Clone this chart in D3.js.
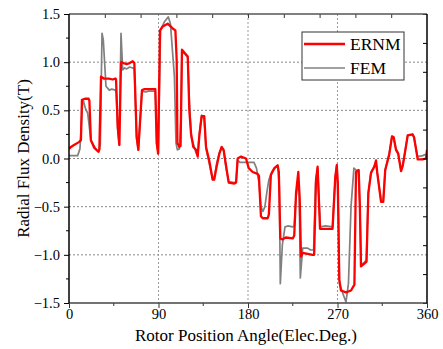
<!DOCTYPE html>
<html>
<head>
<meta charset="utf-8">
<script src="https://cdn.jsdelivr.net/npm/d3@7"></script>
<style>
  body { margin: 0; background: #fff; }
  text { font-family: "Liberation Serif", "DejaVu Serif", serif; fill: #000; }
</style>
</head>
<body>
<div id="chart"></div>
<script>
// ERNM curve (red)
var ernmAngle = [0, 2, 5, 10, 12, 13, 16, 19.8, 20.5, 22, 25.5, 29.5, 30.5, 32.2, 35, 40, 44, 46.6, 47.3, 49, 50.6,
  52.3, 55, 58, 61, 64, 65.7, 68, 69.7, 73.4, 76, 80, 86.8, 88.2, 89.6, 91.5, 94.2, 99.2, 104.3, 107, 108.3, 109,
  111, 112.2, 113.6, 116, 119.4, 121, 122.7, 125, 127.7, 129.4, 131, 133.4, 136, 137.8, 141, 144.5, 146, 148.5,
  151.2, 153.5, 155.5, 158, 160.6, 166.3, 168, 169.6, 173, 178, 180.7, 184.7, 189.7, 191, 193, 194.8, 199.8, 201,
  203, 206.5, 209.8, 211, 212.5, 214.5, 218, 225, 226.5, 228.3, 230.6, 232, 233.3, 235, 240, 245, 246.5, 248.4,
  250, 251, 252.4, 258, 265, 267.8, 269.3, 270.3, 271.8, 273.5, 278.5, 283.6, 287, 288.6, 291.3, 292.5, 293.6,
  297, 299.2, 301, 303.7, 307, 308.7, 310, 313.8, 316, 318, 322, 324.8, 326.5, 328.8, 331, 333.9, 335.5, 337.2,
  340.6, 345.6, 347, 350.7, 355.7, 359, 360];
var ernmValue = [0.10, 0.12, 0.14, 0.17, 0.19, 0.61, 0.62, 0.62, 0.60, 0.19, 0.11, 0.07, 0.09, 0.85, 0.83, 0.83, 0.82,
  0.83, 0.82, 0.33, 0.14, 1.00, 0.99, 0.98, 0.99, 1.01, 0.99, 0.23, 0.09, 0.71, 0.72, 0.72, 0.72, 0.16, 0.05,
  1.33, 1.37, 1.40, 1.35, 1.33, 1.02, 0.16, 0.12, 0.13, 1.13, 1.10, 1.06, 0.50, 0.26, 0.12, 0.09, 0.02, 0.23,
  0.44, 0.44, 0.12, -0.02, -0.22, -0.22, -0.08, 0.05, 0.12, 0.09, -0.08, -0.25, -0.26, -0.25, 0.00, 0.02, 0.00,
  -0.10, -0.14, -0.16, -0.18, -0.60, -0.62, -0.62, -0.58, -0.17, -0.10, -0.07, -0.14, -0.83, -0.84, -0.82, -0.83,
  -0.80, -0.36, -0.14, -0.42, -1.02, -0.98, -0.99, -1.00, -1.00, -0.22, -0.085, -0.35, -0.73, -0.73, -0.73,
  -0.19, -0.07, -0.25, -1.26, -1.37, -1.39, -1.37, -1.31, -0.14, -0.12, -0.50, -1.12, -1.09, -1.07, -0.36,
  -0.15, -0.085, -0.02, -0.15, -0.45, -0.45, -0.12, 0.04, 0.23, 0.22, 0.09, 0.05, -0.13, -0.08, 0.02, 0.24,
  0.25, 0.22, -0.01, -0.01, 0.00, 0.09];

// FEM curve (grey)
var femAngle = [0, 8.7, 11, 13.8, 14.5, 16.5, 18.8, 22, 27, 30, 31.5, 33.2, 34.5, 37.2, 40.5, 43, 46.6, 47.5, 49, 50.6,
  52.3, 54, 56, 58, 61, 64, 65.7, 68, 69.7, 73.4, 77, 80, 86.8, 88.2, 89.8, 92, 96, 99.9, 102, 106, 107.6, 109,
  111, 112.5, 113.6, 116, 119.4, 121, 123, 127.7, 129.4, 131, 133.4, 136, 137.8, 141, 144.5, 146, 148.5, 151.2,
  153.5, 155.5, 158, 160.6, 166.3, 168, 169.6, 172, 178, 186, 188.5, 191, 193, 195, 197, 199, 201, 204, 207, 210,
  211.5, 212.5, 214.5, 217.2, 220, 225, 226.5, 228.3, 230, 231.5, 232.6, 235, 240, 243, 246, 248, 250, 251.5,
  252.8, 258, 265, 267.8, 269.4, 271, 272, 276, 278.5, 281, 283.6, 286.5, 288.6, 291, 292.5, 293.8, 297, 299,
  301, 303.7, 307, 308.7, 310, 313.8, 316, 318, 322, 324.8, 326.5, 328.8, 331, 333.9, 335.5, 337.2, 340.6, 345.6,
  347, 350.5, 355.7, 358, 360];
var femValue = [0.03, 0.03, 0.10, 0.61, 0.60, 0.52, 0.47, 0.19, 0.10, 0.07, 0.15, 1.30, 1.23, 0.75, 0.71, 0.72, 0.71,
  0.68, 0.30, 0.14, 1.30, 0.92, 0.94, 0.93, 0.95, 0.94, 0.93, 0.20, 0.09, 0.70, 0.69, 0.70, 0.70, 0.16, 0.05,
  1.33, 1.42, 1.47, 1.40, 0.85, 0.16, 0.09, 0.10, 0.40, 1.10, 1.09, 1.05, 0.60, 0.22, 0.06, 0.03, 0.25, 0.45,
  0.40, 0.10, -0.05, -0.22, -0.21, -0.05, 0.06, 0.11, 0.08, -0.10, -0.24, -0.25, -0.24, -0.02, -0.04, -0.04,
  -0.04, -0.10, -0.25, -0.50, -0.55, -0.50, -0.35, -0.22, -0.14, -0.10, -0.08, -0.30, -1.30, -0.90, -0.71,
  -0.70, -0.71, -0.70, -0.40, -0.26, -0.35, -1.24, -0.93, -0.93, -0.95, -0.95, -0.25, -0.10, -0.45, -0.71,
  -0.70, -0.71, -0.19, -0.06, -0.60, -1.30, -1.42, -1.49, -1.30, -0.50, -0.10, -0.12, -0.12, -0.50, -1.10,
  -1.08, -1.05, -0.36, -0.14, -0.08, -0.03, -0.15, -0.44, -0.44, -0.12, 0.05, 0.23, 0.21, 0.10, 0.06, -0.12,
  -0.08, 0.03, 0.24, 0.25, 0.21, 0.02, 0.03, 0.04, 0.04];

var xTicks = [0, 90, 180, 270, 360];
var xMinorTicks = [45, 135, 225, 315];
var yTicks = [-1.5, -1.0, -0.5, 0.0, 0.5, 1.0, 1.5];
var yMinorTicks = [-1.25, -0.75, -0.25, 0.25, 0.75, 1.25];
var topTicks = [36, 72, 108, 144, 180, 216, 252, 288, 324];
var rightTicks = [-1.5, -1.2, -0.9, -0.6, -0.3, 0, 0.3, 0.6, 0.9, 1.2, 1.5];
var gridX = [90, 180, 270];
var gridY = [-1.0, -0.5, 0.0, 0.5, 1.0];
var seriesNames = ["ERNM", "FEM"];

var W = 443, H = 349;
var margin = { top: 14, right: 16, bottom: 46, left: 69 };
var width = W - margin.left - margin.right;
var height = H - margin.top - margin.bottom;

var svg = d3.select("#chart").append("svg")
  .attr("width", W)
  .attr("height", H);

var g = svg.append("g")
  .attr("transform", "translate(" + margin.left + "," + margin.top + ")");

var x = d3.scaleLinear().domain([0, 360]).range([0, width]);
var y = d3.scaleLinear().domain([-1.5, 1.5]).range([height, 0]);

// grid
g.append("g").selectAll("line").data(gridY).enter().append("line")
  .attr("x1", 0).attr("x2", width)
  .attr("y1", d => y(d)).attr("y2", d => y(d))
  .attr("stroke", "#888").attr("stroke-dasharray", "2,2");
g.append("g").selectAll("line").data(gridX).enter().append("line")
  .attr("y1", 0).attr("y2", height)
  .attr("x1", d => x(d)).attr("x2", d => x(d))
  .attr("stroke", "#999").attr("stroke-dasharray", "2,2");

g.append("clipPath").attr("id", "clip").append("rect")
  .attr("x", 0).attr("y", -2).attr("width", width).attr("height", height + 3);

var line = d3.line()
  .x(d => x(d[0]))
  .y(d => y(d[1]));

var femData = femAngle.map((a, i) => [a, femValue[i]]);
var ernmData = ernmAngle.map((a, i) => [a, ernmValue[i]]);

g.append("path")
  .datum(femData)
  .attr("clip-path", "url(#clip)")
  .attr("d", line)
  .attr("fill", "none")
  .attr("stroke", "#808080")
  .attr("stroke-width", 1.7)
  .attr("stroke-linejoin", "round");

g.append("path")
  .datum(ernmData)
  .attr("clip-path", "url(#clip)")
  .attr("d", line)
  .attr("fill", "none")
  .attr("stroke", "#ff0000")
  .attr("stroke-width", 2.3)
  .attr("stroke-linejoin", "round");

// axes
var xAxis = g.append("g")
  .attr("transform", "translate(0," + height + ")")
  .call(d3.axisBottom(x).tickValues(xTicks).tickSize(5).tickPadding(1).tickFormat(d3.format("d")));
xAxis.append("g").selectAll("line").data(xMinorTicks).enter().append("line")
  .attr("x1", d => x(d)).attr("x2", d => x(d)).attr("y1", 0).attr("y2", 3)
  .attr("stroke", "#333");

var yAxis = g.append("g")
  .call(d3.axisLeft(y).tickValues(yTicks).tickSize(5).tickPadding(4).tickFormat(d3.format(".1f")));
yAxis.append("g").selectAll("line").data(yMinorTicks).enter().append("line")
  .attr("y1", d => y(d)).attr("y2", d => y(d)).attr("x1", 0).attr("x2", -3)
  .attr("stroke", "#000");

var topAxis = g.append("g")
  .call(d3.axisBottom(x).tickValues(topTicks).tickSize(4).tickFormat(""));
var rightAxis = g.append("g")
  .attr("transform", "translate(" + width + ",0)")
  .call(d3.axisLeft(y).tickValues(rightTicks).tickSize(4).tickFormat(""));

[xAxis, yAxis, topAxis, rightAxis].forEach(a => {
  a.attr("font-family", null);
  a.selectAll(".domain").remove();
  a.selectAll("text").style("font-family", "'Liberation Serif', serif").style("font-size", "14.5px").attr("fill", "#000");
});
xAxis.selectAll(".tick line").attr("stroke", "#333");
topAxis.selectAll(".tick line").attr("stroke", "#333");

// frame
g.append("line").attr("x1", 0).attr("x2", width).attr("y1", 0).attr("y2", 0).attr("stroke", "#555").attr("stroke-width", 1.5);
g.append("line").attr("x1", 0).attr("x2", width).attr("y1", height).attr("y2", height).attr("stroke", "#444").attr("stroke-width", 1.5);
g.append("line").attr("x1", 0).attr("x2", 0).attr("y1", 0).attr("y2", height).attr("stroke", "#000").attr("stroke-width", 1.5);
g.append("line").attr("x1", width).attr("x2", width).attr("y1", 0).attr("y2", height).attr("stroke", "#000").attr("stroke-width", 1.5);

// titles
svg.append("text")
  .attr("x", margin.left + width / 2 - 2)
  .attr("y", 341)
  .attr("text-anchor", "middle")
  .style("font-size", "17px")
  .text("Rotor Position Angle(Elec.Deg.)");

svg.append("text")
  .attr("transform", "translate(29," + (margin.top + height / 2) + ") rotate(-90)")
  .attr("text-anchor", "middle")
  .style("font-size", "17px")
  .text("Radial Flux Density(T)");

// legend
var legend = svg.append("g").attr("transform", "translate(302,32)");
legend.append("rect")
  .attr("width", 102).attr("height", 48)
  .attr("fill", "#fff").attr("stroke", "#333").attr("stroke-width", 1);
var colors = ["#ff0000", "#808080"];
seriesNames.forEach((name, i) => {
  var ly = 12 + i * 24;
  legend.append("line")
    .attr("x1", 2).attr("x2", 43).attr("y1", ly).attr("y2", ly)
    .attr("stroke", colors[i]).attr("stroke-width", i == 0 ? 2.3 : 1.7);
  legend.append("text")
    .attr("x", 48).attr("y", ly + 6)
    .style("font-size", "17.5px")
    .text(name);
});
</script>
</body>
</html>
